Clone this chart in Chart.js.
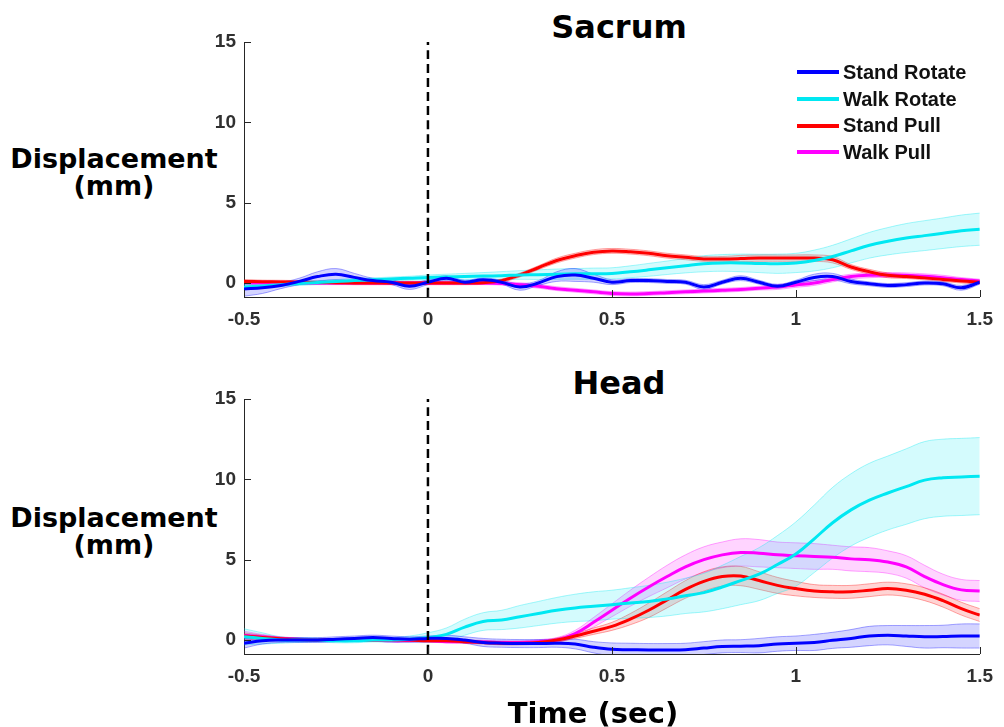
<!DOCTYPE html>
<html>
<head>
<meta charset="utf-8">
<script src="https://cdn.jsdelivr.net/npm/chart.js@4.4.1/dist/chart.umd.min.js"></script>
<style>
  body { margin: 0; background: #fff; width: 1004px; height: 727px; position: relative; overflow: hidden; }
  canvas { position: absolute; left: 0; }
  .txt { position: absolute; font-family: 'DejaVu Sans', sans-serif; font-weight: bold; color: #000; text-align: center; white-space: nowrap; }
  .ttl { font-size: 32px; line-height: 32px; width: 400px; }
  .ylab { font-size: 27px; line-height: 27px; width: 240px; }
  .legend { position: absolute; left: 797px; top: 59px; font-family: 'Liberation Sans', Arial, sans-serif; font-weight: bold; font-size: 20px; color: #111; }
  .legend div { height: 26.7px; line-height: 26.7px; display: flex; align-items: center; }
  .legend span.ln { display: inline-block; width: 42px; height: 4px; margin-right: 4px; }
</style>
</head>
<body>
<div class="txt ttl" style="left:419px; top:11px;">Sacrum</div>
<div class="txt ylab" style="left:-6px; top:145px;">Displacement<br>(mm)</div>
<canvas id="cSacrum" width="1004" height="340" style="top:0px;"></canvas>
<div class="legend" id="legend"></div>

<div class="txt ttl" style="left:419px; top:367px;">Head</div>
<div class="txt ylab" style="left:-6px; top:504px;">Displacement<br>(mm)</div>
<canvas id="cHead" width="1004" height="340" style="top:357px;"></canvas>
<div class="txt ttl" style="left:393px; top:697px; font-size:29px;">Time (sec)</div>

<script>
// time axis (sec)
const times = [-0.5,-0.45,-0.4,-0.35,-0.3,-0.25,-0.2,-0.15,-0.1,-0.05,0,0.05,0.1,0.15,0.2,0.25,0.3,0.35,0.4,0.45,0.5,
  0.55,0.6,0.65,0.7,0.75,0.8,0.85,0.9,0.95,1.0,1.05,1.1,1.15,1.2,1.25,1.3,1.35,1.4,1.45,1.5];
const xTicks = [-0.5, 0, 0.5, 1, 1.5];
const xTickLabels = ['-0.5', '0', '0.5', '1', '1.5'];
const yTicks = [0, 5, 10, 15];
const yMin = -0.87, yMax = 15;

const seriesNames = ['Stand Rotate', 'Walk Rotate', 'Stand Pull', 'Walk Pull'];
const seriesColors = [[0,0,255], [0,232,242], [255,0,0], [255,0,255]];

// Sacrum: means and half-widths of shaded bands (mm)
const sacStandRotate = [-0.37,-0.3,-0.15,0.1,0.4,0.55,0.35,0.15,0.05,-0.2,0.05,0.3,0.05,0.2,0.05,-0.25,0,0.4,0.5,0.3,0.05,
  0.15,0.15,0.1,0.05,-0.25,0.05,0.3,0.05,-0.2,0.05,0.35,0.4,0.1,-0.05,-0.15,-0.1,0,-0.05,-0.3,0.05];
const sacStandRotateErr = [0.45,0.35,0.2,0.2,0.3,0.35,0.25,0.15,0.15,0.2,0.15,0.15,0.12,0.12,0.12,0.2,0.15,0.3,0.4,0.25,0.15,
  0.12,0.12,0.12,0.12,0.15,0.12,0.15,0.12,0.12,0.12,0.2,0.2,0.15,0.12,0.12,0.12,0.12,0.12,0.15,0.12];
const sacWalkRotate = [-0.25,-0.18,-0.1,-0.03,0.03,0.1,0.15,0.2,0.25,0.3,0.35,0.38,0.4,0.43,0.46,0.5,0.52,0.55,0.57,0.58,0.6,
  0.7,0.82,0.95,1.08,1.2,1.25,1.25,1.22,1.2,1.25,1.4,1.65,2.0,2.35,2.6,2.8,2.95,3.1,3.25,3.35];
const sacWalkRotateErr = [0.15,0.15,0.12,0.12,0.12,0.12,0.12,0.12,0.12,0.12,0.15,0.17,0.2,0.22,0.25,0.27,0.3,0.32,0.33,0.35,0.35,
  0.37,0.4,0.42,0.45,0.5,0.52,0.55,0.57,0.6,0.6,0.65,0.7,0.75,0.8,0.85,0.9,0.93,0.95,0.98,1.0];
const sacStandPull = [0.1,0.08,0.07,0.05,0.03,0.02,0,0,0,0,0,0,0,0.02,0.15,0.5,0.95,1.4,1.7,1.92,2.0,
  1.95,1.85,1.7,1.6,1.5,1.5,1.52,1.55,1.55,1.55,1.55,1.45,1.0,0.7,0.48,0.4,0.32,0.22,0.12,0.05];
const sacStandPullErr = [0.12,0.1,0.1,0.1,0.1,0.1,0.1,0.1,0.1,0.1,0.1,0.1,0.1,0.1,0.1,0.12,0.12,0.15,0.15,0.15,0.15,
  0.15,0.15,0.15,0.15,0.15,0.15,0.2,0.2,0.2,0.2,0.2,0.2,0.15,0.15,0.15,0.12,0.12,0.12,0.12,0.12];
const sacWalkPull = [0.03,0.02,0.02,0.01,0,0,0,0,0,0,0,0,0,0,-0.03,-0.1,-0.2,-0.35,-0.45,-0.55,-0.65,
  -0.68,-0.65,-0.6,-0.55,-0.5,-0.45,-0.4,-0.32,-0.25,-0.12,0,0.22,0.4,0.48,0.5,0.48,0.42,0.33,0.22,0.12];
const sacWalkPullErr = [0.1,0.1,0.1,0.1,0.1,0.1,0.1,0.1,0.1,0.1,0.1,0.1,0.1,0.1,0.1,0.12,0.12,0.12,0.12,0.12,0.12,
  0.12,0.12,0.12,0.12,0.12,0.12,0.12,0.12,0.15,0.15,0.15,0.15,0.15,0.15,0.15,0.15,0.15,0.15,0.12,0.12];

// Head
const headStandRotate = [-0.2,-0.05,0,0,0,0.05,0.1,0.15,0.1,0.05,0.1,0.1,0,-0.15,-0.2,-0.22,-0.22,-0.2,-0.25,-0.45,-0.58,
  -0.6,-0.62,-0.62,-0.6,-0.5,-0.4,-0.38,-0.35,-0.25,-0.2,-0.15,-0.02,0.1,0.25,0.3,0.25,0.2,0.22,0.25,0.25];
const headStandRotateErr = [0.3,0.2,0.15,0.15,0.15,0.15,0.15,0.15,0.15,0.15,0.15,0.2,0.2,0.25,0.25,0.25,0.25,0.25,0.3,0.35,0.4,
  0.4,0.4,0.4,0.4,0.4,0.4,0.4,0.45,0.45,0.45,0.5,0.5,0.55,0.6,0.6,0.65,0.7,0.7,0.75,0.75];
const headWalkRotate = [0.2,0.1,0,0,0,-0.05,-0.05,0,0,0.05,0.15,0.35,0.8,1.15,1.25,1.45,1.65,1.85,2.0,2.1,2.2,
  2.3,2.4,2.55,2.75,2.95,3.3,3.7,4.1,4.7,5.35,6.3,7.3,8.1,8.7,9.15,9.55,9.95,10.1,10.15,10.2];
const headWalkRotateErr = [0.5,0.35,0.2,0.15,0.12,0.12,0.12,0.12,0.15,0.2,0.3,0.4,0.5,0.55,0.6,0.7,0.75,0.8,0.85,0.9,0.9,
  0.95,1.0,1.05,1.1,1.2,1.35,1.5,1.65,1.8,2.0,2.1,2.2,2.25,2.3,2.3,2.35,2.4,2.4,2.4,2.4];
const headStandPull = [0.25,0.15,0.08,0.03,0,0,0,0,0,0,-0.05,-0.05,-0.1,-0.15,-0.2,-0.2,-0.15,0,0.25,0.55,0.85,
  1.3,1.85,2.5,3.15,3.65,3.95,3.98,3.7,3.4,3.2,3.05,3.0,3.0,3.1,3.2,3.1,2.85,2.45,1.95,1.55];
const headStandPullErr = [0.2,0.15,0.1,0.08,0.08,0.08,0.08,0.08,0.08,0.08,0.08,0.08,0.1,0.1,0.1,0.1,0.1,0.12,0.15,0.2,0.25,
  0.35,0.45,0.5,0.55,0.6,0.6,0.6,0.55,0.5,0.45,0.4,0.4,0.4,0.4,0.4,0.4,0.4,0.4,0.4,0.4];
const headWalkPull = [0.3,0.2,0.1,0.05,0,0,0,0,-0.05,-0.05,-0.05,-0.1,-0.1,-0.12,-0.15,-0.15,-0.1,0,0.4,1.1,1.85,
  2.6,3.3,3.95,4.55,5.0,5.3,5.45,5.4,5.3,5.25,5.2,5.15,5.05,5.0,4.85,4.55,3.95,3.45,3.12,3.05];
const headWalkPullErr = [0.25,0.15,0.1,0.08,0.08,0.08,0.08,0.08,0.08,0.08,0.08,0.08,0.1,0.1,0.1,0.1,0.12,0.15,0.2,0.3,0.4,
  0.5,0.6,0.7,0.75,0.8,0.8,0.85,0.85,0.8,0.8,0.8,0.75,0.75,0.75,0.7,0.7,0.7,0.65,0.65,0.65];

function _rgba(c, a) { return `rgba(${c[0]},${c[1]},${c[2]},${a})`; }

function _pts(vals) { return times.map((t, i) => ({ x: t, y: vals[i] })); }

function _seriesSets(mean, err, color) {
  const up = mean.map((v, i) => v + err[i]);
  const lo = mean.map((v, i) => v - err[i]);
  return {
    bands: [
      { data: _pts(up), borderColor: _rgba(color, 0.35), borderWidth: 1, fill: false, order: 2 },
      { data: _pts(lo), borderColor: _rgba(color, 0.35), borderWidth: 1, backgroundColor: _rgba(color, 0.17), fill: '-1', order: 2 }
    ],
    line: { data: _pts(mean), borderColor: _rgba(color, 1), borderWidth: 3, fill: false, order: 1 }
  };
}

// tick marks inside the axes, matlab style
const inwardTicks = {
  id: 'inwardTicks',
  afterDatasetsDraw(chart) {
    const { ctx, chartArea } = chart;
    const x = chart.scales.x, y = chart.scales.y;
    ctx.save();
    ctx.strokeStyle = '#262626';
    ctx.lineWidth = 1;
    x.ticks.forEach(t => {
      const px = Math.round(x.getPixelForValue(t.value)) + 0.5;
      ctx.beginPath(); ctx.moveTo(px, chartArea.bottom); ctx.lineTo(px, chartArea.bottom - 7); ctx.stroke();
    });
    y.ticks.forEach(t => {
      const py = Math.round(y.getPixelForValue(t.value)) + 0.5;
      ctx.beginPath(); ctx.moveTo(chartArea.left, py); ctx.lineTo(chartArea.left + 7, py); ctx.stroke();
    });
    ctx.restore();
  }
};

function makePanel(id, groups) {
  const bands = [], lines = [];
  groups.forEach((g, k) => {
    const s = _seriesSets(g[0], g[1], seriesColors[k]);
    bands.push(...s.bands);
    lines.push(s.line);
  });
  const onset = {
    data: [{ x: 0, y: yMin }, { x: 0, y: yMax }],
    borderColor: '#000', borderWidth: 2.5, borderDash: [9, 5], fill: false, order: 0
  };
  const tickFont = { family: 'Liberation Sans', weight: 'bold', size: 19 };
  return new Chart(document.getElementById(id).getContext('2d'), {
    type: 'line',
    data: { datasets: [onset, ...lines, ...bands] },
    options: {
      responsive: false,
      animation: false,
      devicePixelRatio: 1,
      layout: { padding: { left: 200, top: 42, right: 18, bottom: 0 } },
      elements: { point: { radius: 0 }, line: { tension: 0.4 } },
      plugins: { legend: { display: false }, title: { display: false }, tooltip: { enabled: false } },
      scales: {
        x: {
          type: 'linear', min: -0.5, max: 1.5,
          afterBuildTicks: s => { s.ticks = xTicks.map(v => ({ value: v })); },
          afterFit: s => { s.height = 43; },
          grid: { drawOnChartArea: false, drawTicks: false },
          border: { color: '#262626', width: 1 },
          ticks: { font: tickFont, color: '#303030', padding: 11, maxRotation: 0,
            callback: (v, i) => xTickLabels[i] }
        },
        y: {
          type: 'linear', min: yMin, max: yMax,
          afterBuildTicks: s => { s.ticks = yTicks.map(v => ({ value: v })); },
          afterFit: s => { s.width = 44; },
          grid: { drawOnChartArea: false, drawTicks: false },
          border: { color: '#262626', width: 1 },
          ticks: { font: tickFont, color: '#303030', padding: 8 }
        }
      }
    },
    plugins: [inwardTicks]
  });
}

makePanel('cSacrum', [
  [sacStandRotate, sacStandRotateErr], [sacWalkRotate, sacWalkRotateErr],
  [sacStandPull, sacStandPullErr], [sacWalkPull, sacWalkPullErr]
]);
makePanel('cHead', [
  [headStandRotate, headStandRotateErr], [headWalkRotate, headWalkRotateErr],
  [headStandPull, headStandPullErr], [headWalkPull, headWalkPullErr]
]);

const leg = document.getElementById('legend');
seriesNames.forEach((n, k) => {
  const row = document.createElement('div');
  row.innerHTML = `<span class="ln" style="background:${_rgba(seriesColors[k], 1)}"></span>${n}`;
  leg.appendChild(row);
});
</script>
</body>
</html>
